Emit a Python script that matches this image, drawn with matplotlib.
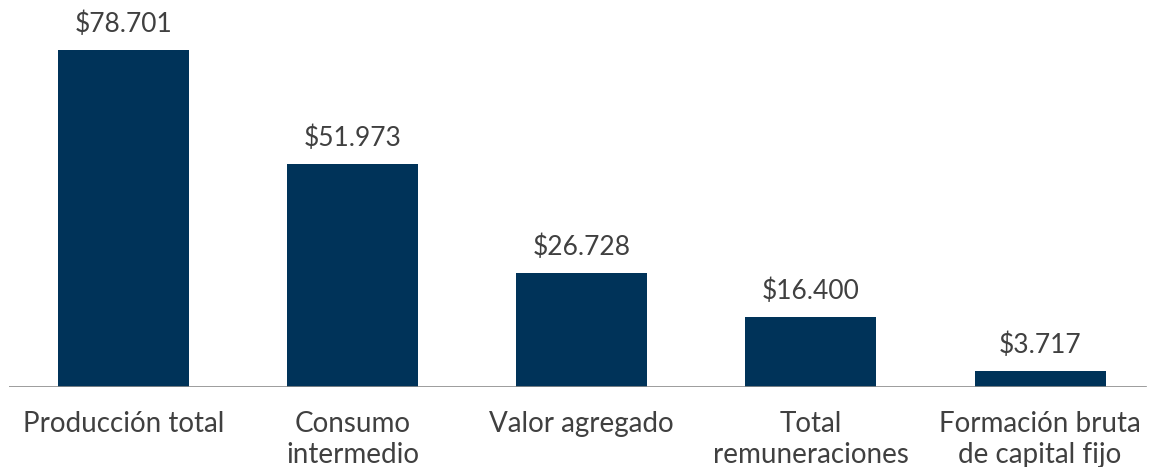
import matplotlib.pyplot as plt

plt.rcParams['font.family'] = ['Lato', 'DejaVu Sans']

categorias = ['Producción total', 'Consumo\nintermedio', 'Valor agregado',
              'Total\nremuneraciones', 'Formación bruta\nde capital fijo']
valores = [78701, 51973, 26728, 16400, 3717]
etiquetas = ['$78.701', '$51.973', '$26.728', '$16.400', '$3.717']

color_barra = '#003359'
color_texto = '#404040'

fig = plt.figure(figsize=(11.53, 4.67), dpi=100)
ax = fig.add_axes([9 / 1153, 80 / 467, 1145.6 / 1153, 387 / 467])

x = range(len(categorias))
bars = ax.bar(x, valores, width=0.572, color=color_barra, zorder=2)

for b, txt in zip(bars, etiquetas):
    ax.annotate(txt, (b.get_x() + b.get_width() / 2, b.get_height()),
                xytext=(0, 13), textcoords='offset pixels',
                ha='center', va='bottom', fontsize=19, color=color_texto)

ax.set_xlim(-0.5, 4.5)
ax.set_ylim(0, 78701 * 387 / 337)
ax.set_xticks(list(x))
ax.set_xticklabels(categorias, fontsize=20, color=color_texto, linespacing=1.25)
ax.tick_params(axis='x', length=0, pad=17)
ax.set_yticks([])
for s in ax.spines.values():
    s.set_visible(False)
ax.axhline(0, xmin=0, xmax=(1146 - 9) / 1145.6, color='#8c8c8c', lw=1.2, zorder=3)

fig.savefig('out.png', dpi=100)
